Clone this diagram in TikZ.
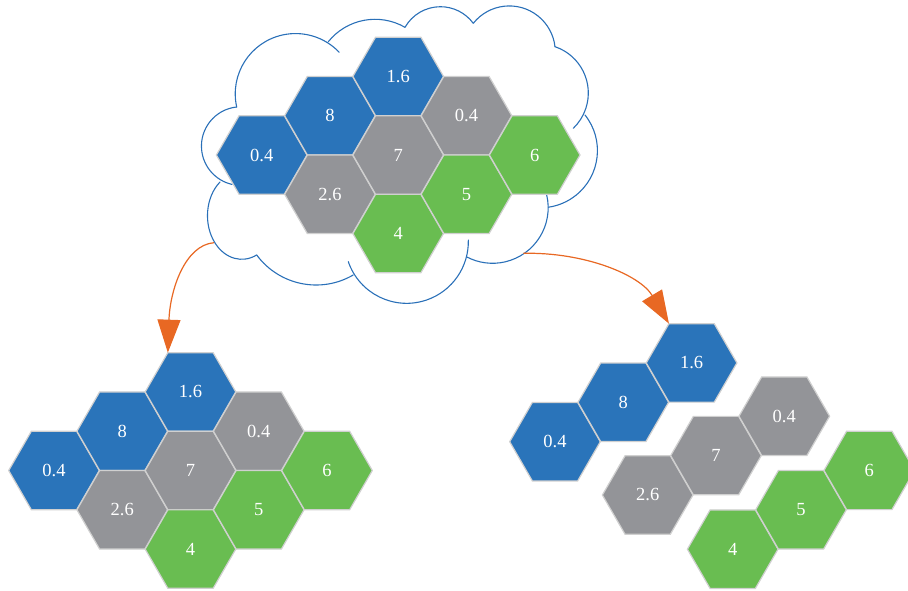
\documentclass[tikz,border=0pt]{standalone}
\usepackage{fontspec}
\setmainfont{Liberation Serif}
\usetikzlibrary{shapes.geometric,arrows.meta}
\definecolor{hexblue}{RGB}{42,116,186}
\definecolor{hexgray}{RGB}{147,148,152}
\definecolor{hexgreen}{RGB}{105,189,81}
\definecolor{hexedge}{RGB}{208,208,208}
\definecolor{cloudblue}{RGB}{42,112,184}
\definecolor{floworange}{RGB}{232,104,35}
\begin{document}
\begin{tikzpicture}[x=1pt,y=-1pt,
  hexcell/.style={regular polygon, regular polygon sides=6,
    minimum size=90.6pt, inner sep=0pt, outer sep=0pt, draw=hexedge, line width=1.2pt,
    text=white, font=\fontsize{18.5}{20}\selectfont},
  cellblue/.style={hexcell, fill=hexblue},
  cellgray/.style={hexcell, fill=hexgray},
  cellgreen/.style={hexcell, fill=hexgreen},
  cloudline/.style={draw=cloudblue, line width=1.1pt, line cap=round},
  flow/.style={draw=floworange, line width=1.2pt, -{Triangle[length=33pt,width=23pt]}}]
\clip (0,0) rectangle (908,591);

% cloud outline: one arc per bump, running clockwise from the upper left
\draw[cloudline] (236.7,107) arc[start angle=167.4, end angle=316.5, radius=60.3];
\draw[cloudline] (328.3,41.7) arc[start angle=218.8, end angle=299.9, radius=60];
\draw[cloudline] (405,27.3) arc[start angle=209.7, end angle=323.6, radius=40.8];
\draw[cloudline] (473.3,23.3) arc[start angle=218.5, end angle=353.5, radius=46];
\draw[cloudline] (555,46.7) arc[start angle=288.6, end angle=406.1, radius=48.9];
\draw[cloudline] (585,115) arc[start angle=321.5, end angle=441.9, radius=57.2];
\draw[cloudline] (546.7,195) arc[start angle=346.8, end angle=477.9, radius=55.6];
\draw[cloudline] (348.3,261.7) arc[start angle=161, end angle=-1.5, radius=61.7];
\draw[cloudline] (256.7,255) arc[start angle=143.6, end angle=59.75, radius=73.8];
\draw[cloudline] (220,182) arc[start angle=230.6, end angle=64.3, x radius=34.3, y radius=43.6];
\draw[cloudline] (236.7,107) arc[start angle=264.1, end angle=102.7, radius=39.3];
\coordinate (cloudL) at (214,242.7);
\coordinate (cloudR) at (523.3,253.3);

% hexagon cluster inside the cloud
\node[cellblue]  (ta) at (261.7,155)   {0.4};
\node[cellblue]  (tb) at (329.95,115.7) {8};
\node[cellblue]  (tc) at (398.2,76.4)  {1.6};
\node[cellgray]  (td) at (329.95,194.3) {2.6};
\node[cellgray]  (te) at (398.2,155)   {7};
\node[cellgray]  (tf) at (466.45,115.7) {0.4};
\node[cellgreen] (tg) at (398.2,233.6) {4};
\node[cellgreen] (th) at (466.45,194.3) {5};
\node[cellgreen] (ti) at (534.7,155)   {6};

% same cluster, lower left
\node[cellblue]  (la) at (54,470.5)     {0.4};
\node[cellblue]  (lb) at (122.25,431.2) {8};
\node[cellblue]  (lc) at (190.5,391.9)  {1.6};
\node[cellgray]  (ld) at (122.25,509.8) {2.6};
\node[cellgray]  (le) at (190.5,470.5)  {7};
\node[cellgray]  (lf) at (258.75,431.2) {0.4};
\node[cellgreen] (lg) at (190.5,549.1)  {4};
\node[cellgreen] (lh) at (258.75,509.8) {5};
\node[cellgreen] (li) at (327,470.5)    {6};

% cluster split into three rows, lower right
\node[cellblue]  (ra) at (555,441.7)   {0.4};
\node[cellblue]  (rb) at (623.3,402.3) {8};
\node[cellblue]  (rc) at (691.6,362.9) {1.6};
\node[cellgray]  (rd) at (647.7,495)   {2.6};
\node[cellgray]  (re) at (716,455.6)   {7};
\node[cellgray]  (rf) at (784.3,416.2) {0.4};
\node[cellgreen] (rg) at (732.7,549.2) {4};
\node[cellgreen] (rh) at (801,509.8)   {5};
\node[cellgreen] (ri) at (869.3,470.4) {6};

% arrows from the cloud to the upper-left corner of each 1.6 cell
\draw[flow] (cloudL) .. controls (185,245) and (170,290) .. (lc.corner 2);
\draw[flow] (cloudR) .. controls (585,252) and (640,275) .. (rc.corner 2);
\end{tikzpicture}
\end{document}
